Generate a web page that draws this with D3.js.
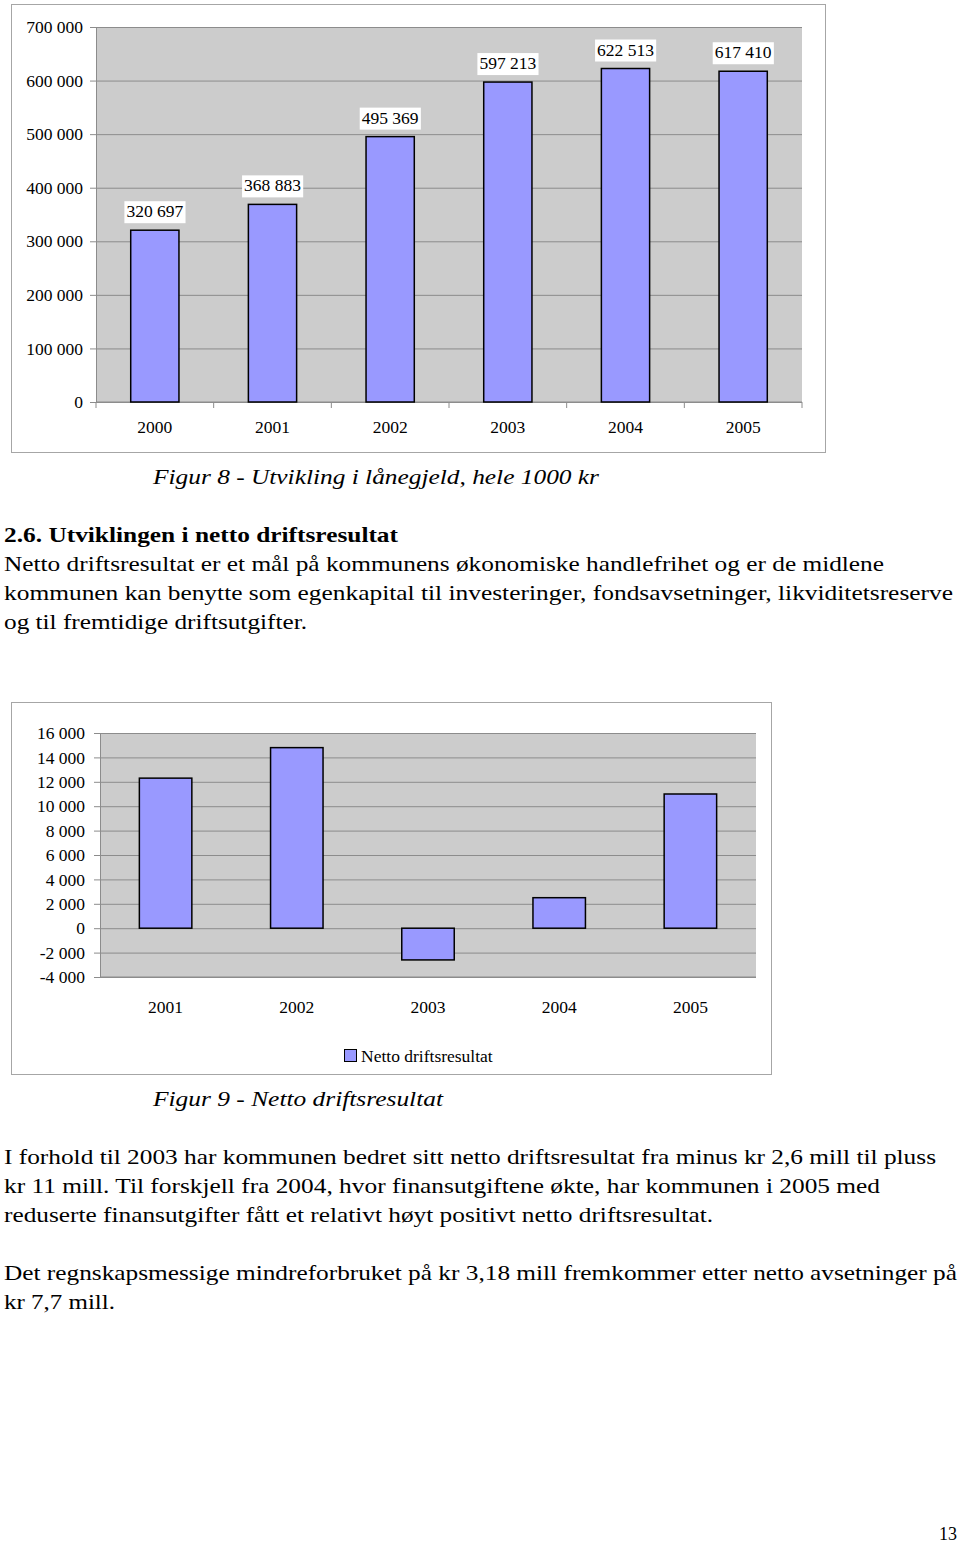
<!DOCTYPE html>
<html>
<head>
<meta charset="utf-8">
<script src="https://cdn.jsdelivr.net/npm/d3@7"></script>
<style>
  body { margin: 0; background: #fff; }
  text { font-family: "Liberation Serif", "Times New Roman", Times, "DejaVu Serif Condensed", serif; fill: #000; }
</style>
</head>
<body>
<script>
// data: figur 8 (lånegjeld, 1000 kr)
const loanYears = ["2000", "2001", "2002", "2003", "2004", "2005"];
const loanValues = [320697, 368883, 495369, 597213, 622513, 617410];
const loanTicks = [0, 100000, 200000, 300000, 400000, 500000, 600000, 700000];

// data: figur 9 (netto driftsresultat)
const resultYears = ["2001", "2002", "2003", "2004", "2005"];
const resultValues = [12300, 14800, -2600, 2500, 11000];
const resultTicks = [-4000, -2000, 0, 2000, 4000, 6000, 8000, 10000, 12000, 14000, 16000];

const locale = d3.formatLocale({thousands: "\u00a0", grouping: [3], decimal: ",", currency: ["", ""], minus: "-"});
const fmt = locale.format(",");

const SERIF = '"Liberation Serif", "Times New Roman", Times, "DejaVu Serif Condensed", serif';
const BAR = "#9999ff", PLOT_BG = "#cccccc", GRID = "#8c8c8c", FRAME = "#a6a6a6";

const svg = d3.select("body").append("svg")
    .attr("width", 960)
    .attr("height", 1543);

// ---------- chart 1 ----------
svg.append("rect")
    .attr("x", 11.5).attr("y", 4.5).attr("width", 814).attr("height", 448)
    .attr("fill", "#fff").attr("stroke", FRAME);

let c1 = {x0: 96, x1: 802, top: 27, bottom: 402};
let x1s = d3.scaleBand().domain(loanYears).range([c1.x0, c1.x1]);
let y1s = d3.scaleLinear().domain([0, 700000]).range([c1.bottom, c1.top]);
let g1 = svg.append("g");

g1.append("rect")
    .attr("x", c1.x0).attr("y", c1.top)
    .attr("width", c1.x1 - c1.x0).attr("height", c1.bottom - c1.top)
    .attr("fill", PLOT_BG);

// gridlines
g1.append("g")
    .attr("transform", `translate(${c1.x0},0)`)
    .call(d3.axisLeft(y1s).tickValues(loanTicks).tickSize(-(c1.x1 - c1.x0)).tickFormat(""))
    .call(g => g.select(".domain").remove())
    .call(g => g.selectAll("line").attr("stroke", GRID));

// y axis with labels
g1.append("g")
    .attr("transform", `translate(${c1.x0},0)`)
    .call(d3.axisLeft(y1s).tickValues(loanTicks).tickSize(6).tickPadding(7).tickFormat(fmt))
    .call(g => g.select(".domain").attr("stroke", GRID))
    .call(g => g.selectAll("line").attr("stroke", GRID))
    .call(g => g.selectAll("text").style("font-size", "17.5px").style("font-family", SERIF));

// x axis line and ticks at category boundaries
g1.append("line")
    .attr("x1", c1.x0).attr("x2", c1.x1)
    .attr("y1", c1.bottom).attr("y2", c1.bottom)
    .attr("stroke", GRID);
g1.selectAll(".xtick")
    .data(loanYears.concat(["end"]))
    .enter().append("line")
    .attr("x1", (d, i) => c1.x0 + i * x1s.step())
    .attr("x2", (d, i) => c1.x0 + i * x1s.step())
    .attr("y1", c1.bottom).attr("y2", c1.bottom + 6)
    .attr("stroke", GRID);

let bw1 = x1s.bandwidth() * 0.41;
g1.selectAll(".bar")
    .data(loanValues)
    .enter().append("rect")
    .attr("x", (d, i) => x1s(loanYears[i]) + x1s.bandwidth() / 2 - bw1 / 2)
    .attr("y", d => y1s(d))
    .attr("width", bw1)
    .attr("height", d => y1s(0) - y1s(d))
    .attr("fill", BAR)
    .attr("stroke", "#000")
    .attr("stroke-width", 1.5);

// value labels with white box
loanValues.forEach(function(v, i) {
    let cx = x1s(loanYears[i]) + x1s.bandwidth() / 2;
    let lg = g1.append("g");
    let bg = lg.append("rect").attr("fill", "#fff");
    let t = lg.append("text")
        .attr("x", cx).attr("y", y1s(v) - 13)
        .attr("text-anchor", "middle")
        .style("font-size", "17.5px")
        .text(fmt(v));
    let bb = t.node().getBBox();
    bg.attr("x", bb.x - 2).attr("y", bb.y).attr("width", bb.width + 4).attr("height", bb.height + 2);
});

g1.selectAll(".xlab")
    .data(loanYears)
    .enter().append("text")
    .attr("x", d => x1s(d) + x1s.bandwidth() / 2)
    .attr("y", 433)
    .attr("text-anchor", "middle")
    .style("font-size", "17.5px")
    .text(d => d);

// ---------- chart 2 ----------
svg.append("rect")
    .attr("x", 11.5).attr("y", 702.5).attr("width", 760).attr("height", 372)
    .attr("fill", "#fff").attr("stroke", FRAME);

let c2 = {x0: 100, x1: 756, top: 733, bottom: 977};
let x2s = d3.scaleBand().domain(resultYears).range([c2.x0, c2.x1]);
let y2s = d3.scaleLinear().domain([-4000, 16000]).range([c2.bottom, c2.top]);
let g2 = svg.append("g");

g2.append("rect")
    .attr("x", c2.x0).attr("y", c2.top)
    .attr("width", c2.x1 - c2.x0).attr("height", c2.bottom - c2.top)
    .attr("fill", PLOT_BG);

g2.append("g")
    .attr("transform", `translate(${c2.x0},0)`)
    .call(d3.axisLeft(y2s).tickValues(resultTicks).tickSize(-(c2.x1 - c2.x0)).tickFormat(""))
    .call(g => g.select(".domain").remove())
    .call(g => g.selectAll("line").attr("stroke", GRID));

g2.append("g")
    .attr("transform", `translate(${c2.x0},0)`)
    .call(d3.axisLeft(y2s).tickValues(resultTicks).tickSize(6).tickPadding(9).tickFormat(fmt))
    .call(g => g.select(".domain").attr("stroke", GRID))
    .call(g => g.selectAll("line").attr("stroke", GRID))
    .call(g => g.selectAll("text").style("font-size", "17.5px").style("font-family", SERIF));

g2.append("line")
    .attr("x1", c2.x0).attr("x2", c2.x1)
    .attr("y1", c2.bottom).attr("y2", c2.bottom)
    .attr("stroke", GRID);

let bw2 = x2s.bandwidth() * 0.40;
g2.selectAll(".bar")
    .data(resultValues)
    .enter().append("rect")
    .attr("x", (d, i) => x2s(resultYears[i]) + x2s.bandwidth() / 2 - bw2 / 2)
    .attr("y", d => y2s(Math.max(0, d)))
    .attr("width", bw2)
    .attr("height", d => Math.abs(y2s(d) - y2s(0)))
    .attr("fill", BAR)
    .attr("stroke", "#000")
    .attr("stroke-width", 1.5);

g2.selectAll(".xlab")
    .data(resultYears)
    .enter().append("text")
    .attr("x", d => x2s(d) + x2s.bandwidth() / 2)
    .attr("y", 1013)
    .attr("text-anchor", "middle")
    .style("font-size", "17.5px")
    .text(d => d);

// legend
g2.append("rect")
    .attr("x", 344.5).attr("y", 1049.5).attr("width", 12).attr("height", 12)
    .attr("fill", BAR).attr("stroke", "#000");
g2.append("text")
    .attr("x", 361).attr("y", 1062)
    .style("font-size", "17.5px")
    .text("Netto driftsresultat");

// ---------- document text ----------
function line(txt, x, y, w, opts) {
    opts = opts || {};
    let t = svg.append("text")
        .attr("x", x).attr("y", y)
        .attr("text-anchor", opts.anchor || "start")
        .style("font-size", (opts.size || 22) + "px")
        .style("font-weight", opts.bold ? "bold" : "normal")
        .style("font-style", opts.italic ? "italic" : "normal")
        .text(txt);
    if (w) t.attr("textLength", w).attr("lengthAdjust", "spacingAndGlyphs");
    return t;
}

line("Figur 8 - Utvikling i lånegjeld, hele 1000 kr", 153, 484, 446, {italic: true});
line("2.6. Utviklingen i netto driftsresultat", 4, 542, 394, {bold: true});
line("Netto driftsresultat er et mål på kommunens økonomiske handlefrihet og er de midlene", 4, 571, 880);
line("kommunen kan benytte som egenkapital til investeringer, fondsavsetninger, likviditetsreserve", 4, 600, 949);
line("og til fremtidige driftsutgifter.", 4, 629, 303);

line("Figur 9 - Netto driftsresultat", 153, 1106, 290, {italic: true});

line("I forhold til 2003 har kommunen bedret sitt netto driftsresultat fra minus kr 2,6 mill til pluss", 4, 1164, 932);
line("kr 11 mill. Til forskjell fra 2004, hvor finansutgiftene økte, har kommunen i 2005 med", 4, 1193, 876);
line("reduserte finansutgifter fått et relativt høyt positivt netto driftsresultat.", 4, 1222, 709);
line("Det regnskapsmessige mindreforbruket på kr 3,18 mill fremkommer etter netto avsetninger på", 4, 1280, 953);
line("kr 7,7 mill.", 4, 1309, 111);

line("13", 957, 1540, null, {size: 18, anchor: "end"});
</script>
</body>
</html>
